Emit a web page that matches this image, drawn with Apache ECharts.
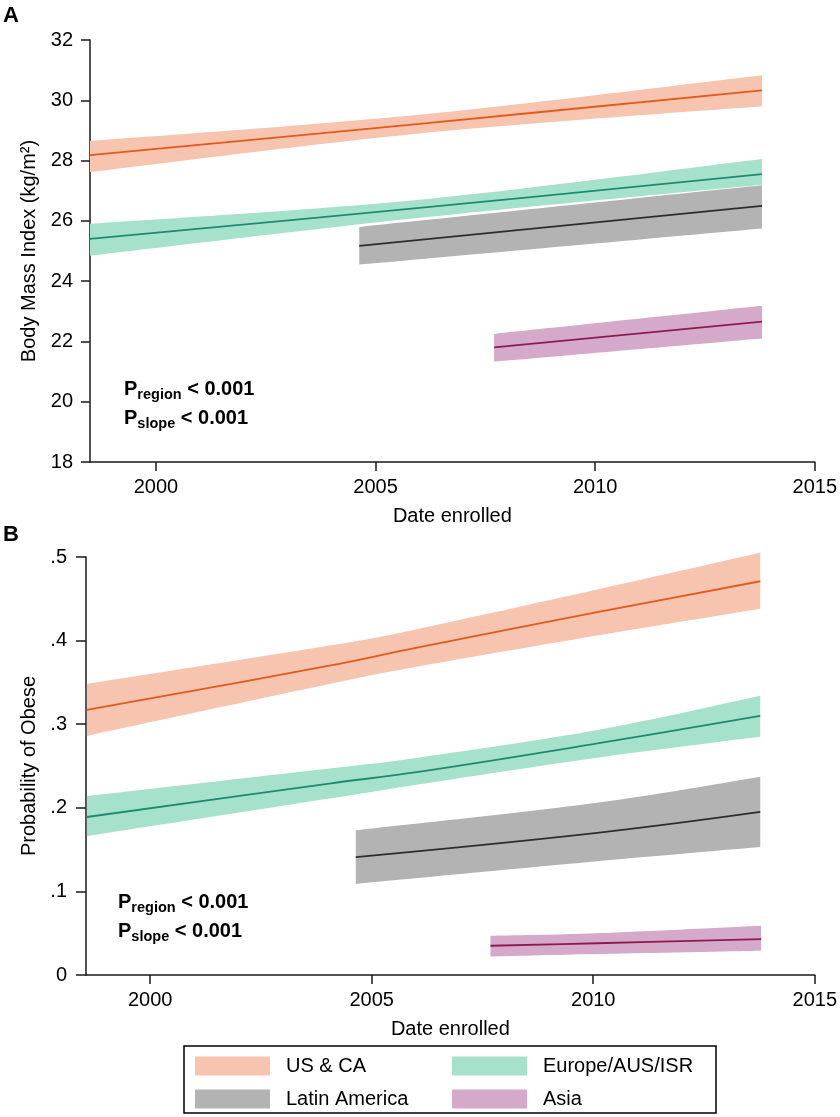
<!DOCTYPE html>
<html>
<head>
<meta charset="utf-8">
<script src="https://cdn.jsdelivr.net/npm/echarts@6/dist/echarts.min.js"></script>
<style>
html,body{margin:0;padding:0;background:#fff;}
#chart{width:840px;height:1117px;}
</style>
</head>
<body>
<div id="chart"></div>
<script>
// ---------- DATA ----------
const regions = ['US & CA', 'Europe/AUS/ISR', 'Latin America', 'Asia'];
const xTickValues = [2000, 2005, 2010, 2015];

// Panel A: Body Mass Index
const bmiYears = [
  [1998.5, 2006.0, 2013.8],
  [1998.5, 2006.0, 2013.8],
  [2004.63, 2013.8],
  [2007.7, 2013.8]
];
const bmiFit = [
  [28.18, 29.22, 30.33],
  [25.40, 26.43, 27.55],
  [25.17, 26.50],
  [21.80, 22.66]
];
const bmiLower = [
  [27.62, 28.90, 29.80],
  [24.84, 26.10, 27.20],
  [24.55, 25.75],
  [21.33, 22.10]
];
const bmiUpper = [
  [28.65, 29.52, 30.83],
  [25.90, 26.70, 28.05],
  [25.80, 27.18],
  [22.25, 23.18]
];

// Panel B: Probability of obese
const obYears = [
  [1998.57, 2004.04, 2006.05, 2010.09, 2013.77],
  [1998.57, 2004.04, 2006.05, 2010.09, 2013.77],
  [2004.64, 2010.09, 2013.77],
  [2007.68, 2010.09, 2013.79]
];
const obFit = [
  [0.317, 0.370, 0.392, 0.434, 0.471],
  [0.189, 0.229, 0.243, 0.277, 0.310],
  [0.141, 0.170, 0.195],
  [0.035, 0.038, 0.043]
];
const obLower = [
  [0.286, 0.348, 0.369, 0.406, 0.438],
  [0.166, 0.211, 0.228, 0.260, 0.285],
  [0.109, 0.136, 0.153],
  [0.022, 0.025, 0.029]
];
const obUpper = [
  [0.348, 0.394, 0.414, 0.461, 0.505],
  [0.214, 0.247, 0.260, 0.293, 0.334],
  [0.173, 0.206, 0.237],
  [0.047, 0.050, 0.059]
];

const statLines = [['region', ' < 0.001'], ['slope', ' < 0.001']];

// ---------- STYLE ----------
const bandColors = ['#F6C4AF', '#A6E2CB', '#B3B3B3', '#D5A9C9'];
const lineColors = ['#E45A1B', '#1D8B6E', '#2E2E2E', '#8E1B4E'];
const FONT = '"Liberation Sans", Arial, Helvetica, sans-serif';
const AX = '#1a1a1a';
const FS = 20;

// smooth open curve through pixel points (Catmull-Rom -> cubic Bezier)
function curvePath(pts, moveFirst) {
  let d = (moveFirst ? 'M' : 'L') + pts[0][0] + ' ' + pts[0][1];
  for (let i = 0; i < pts.length - 1; i++) {
    const p0 = pts[i - 1] || pts[i], p1 = pts[i], p2 = pts[i + 1], p3 = pts[i + 2] || pts[i + 1];
    const c1 = [p1[0] + (p2[0] - p0[0]) / 6, p1[1] + (p2[1] - p0[1]) / 6];
    const c2 = [p2[0] - (p3[0] - p1[0]) / 6, p2[1] - (p3[1] - p1[1]) / 6];
    d += ' C' + c1[0] + ' ' + c1[1] + ' ' + c2[0] + ' ' + c2[1] + ' ' + p2[0] + ' ' + p2[1];
  }
  return d;
}

function bandRender(params, api) {
  if (params.dataIndexInside !== 0) return null;
  const n = params.dataInsideLength;
  const up = [], dn = [];
  for (let i = 0; i < n; i++) {
    up.push(api.coord([api.value(0, i), api.value(2, i)]));
    dn.push(api.coord([api.value(0, i), api.value(1, i)]));
  }
  dn.reverse();
  const d = curvePath(up, true) + ' ' + curvePath(dn, false) + ' Z';
  return {
    type: 'path',
    shape: { pathData: d },
    style: { fill: api.visual('color'), stroke: null }
  };
}

function zip3(a, b, c) { return a.map((v, i) => [v, b[i], c[i]]); }
function zip2(a, b) { return a.map((v, i) => [v, b[i]]); }

const series = [];
function addPanel(gi, years, fit, lo, hi) {
  regions.forEach((name, r) => {
    series.push({
      type: 'custom', name: name, xAxisIndex: gi, yAxisIndex: gi,
      renderItem: bandRender, silent: true,
      itemStyle: { color: bandColors[r] },
      encode: { x: 0, y: [1, 2] },
      data: zip3(years[r], lo[r], hi[r]), z: 2
    });
  });
  regions.forEach((name, r) => {
    series.push({
      type: 'line', name: name + ' fit', xAxisIndex: gi, yAxisIndex: gi,
      showSymbol: false, symbol: 'none', silent: true, smooth: 0.4,
      lineStyle: { color: lineColors[r], width: 1.8 },
      itemStyle: { color: lineColors[r] },
      data: zip2(years[r], fit[r]), z: 3
    });
  });
}
addPanel(0, bmiYears, bmiFit, bmiLower, bmiUpper);
addPanel(1, obYears, obFit, obLower, obUpper);

function xAxisCfg(gi, min) {
  return {
    type: 'value', gridIndex: gi, min: min, max: 2015,
    name: 'Date enrolled', nameLocation: 'middle', nameGap: 44,
    nameTextStyle: { fontSize: FS, color: '#000', fontFamily: FONT },
    axisLine: { show: true, lineStyle: { color: AX, width: 1.5 } },
    axisTick: { show: true, length: 9, lineStyle: { color: AX, width: 1.5 }, customValues: xTickValues },
    axisLabel: { fontSize: FS, color: '#000', fontFamily: FONT, margin: 15, customValues: xTickValues, formatter: v => String(v) },
    splitLine: { show: false }
  };
}
function yAxisCfg(gi, min, max, interval, name, gap, margin, tickLen, fmt) {
  return {
    type: 'value', gridIndex: gi, min: min, max: max, interval: interval,
    name: name, nameLocation: 'middle', nameGap: gap,
    nameTextStyle: { fontSize: FS, color: '#000', fontFamily: FONT },
    axisLine: { show: true, lineStyle: { color: AX, width: 1.5 } },
    axisTick: { show: true, length: tickLen, lineStyle: { color: AX, width: 1.5 } },
    axisLabel: { fontSize: FS, color: '#000', fontFamily: FONT, margin: margin, formatter: fmt },
    splitLine: { show: false }
  };
}

function statText(x, y, parts) {
  return {
    type: 'text', x: x, y: y, silent: true,
    style: {
      text: '{p|P}{s|' + parts[0] + '}{p|' + parts[1] + '}',
      verticalAlign: 'middle',
      rich: {
        p: { fontSize: 20, fontWeight: 'bold', fontFamily: FONT, fill: '#000', lineHeight: 27 },
        s: { fontSize: 14.5, fontWeight: 'bold', fontFamily: FONT, fill: '#000', lineHeight: 16, verticalAlign: 'bottom' }
      }
    }
  };
}

const option = {
  animation: false,
  backgroundColor: '#fff',
  textStyle: { fontFamily: FONT },
  grid: [
    { left: 90, top: 40, width: 727, height: 422 },
    { left: 86, top: 557, width: 732, height: 418 }
  ],
  xAxis: [xAxisCfg(0, 1998.5), xAxisCfg(1, 1998.55)],
  yAxis: [
    yAxisCfg(0, 18, 32, 2, 'Body Mass Index (kg/m²)', 51, 17, 9, v => String(v)),
    yAxisCfg(1, 0, 0.5, 0.1, 'Probability of Obese', 47, 19, 10,
      v => (Math.abs(v) < 1e-9 ? '0' : v.toFixed(1).replace(/^0/, '')))
  ],
  legend: {
    left: 184, top: 1046, width: 510,
    orient: 'horizontal',
    data: regions,
    icon: 'rect', itemWidth: 75, itemHeight: 19, itemGap: 13,
    padding: [10, 20, 4, 11],
    borderColor: '#000', borderWidth: 1.5,
    selectedMode: false,
    textStyle: { fontSize: FS, color: '#000', fontFamily: FONT, width: 153, lineHeight: 19, height: 19, padding: [0, 0, 0, 11], overflow: 'truncate' }
  },
  graphic: [
    { type: 'text', x: 3, y: 16, style: { text: 'A', fontSize: 22, fontWeight: 'bold', fontFamily: FONT, fill: '#000', verticalAlign: 'middle' } },
    { type: 'text', x: 3, y: 535, style: { text: 'B', fontSize: 22, fontWeight: 'bold', fontFamily: FONT, fill: '#000', verticalAlign: 'middle' } },
    statText(124, 389, statLines[0]),
    statText(124, 418, statLines[1]),
    statText(118, 902, statLines[0]),
    statText(118, 931, statLines[1])
  ],
  series: series
};

const chart = echarts.init(document.getElementById('chart'), null, { renderer: 'canvas' });
chart.setOption(option);
</script>
</body>
</html>
